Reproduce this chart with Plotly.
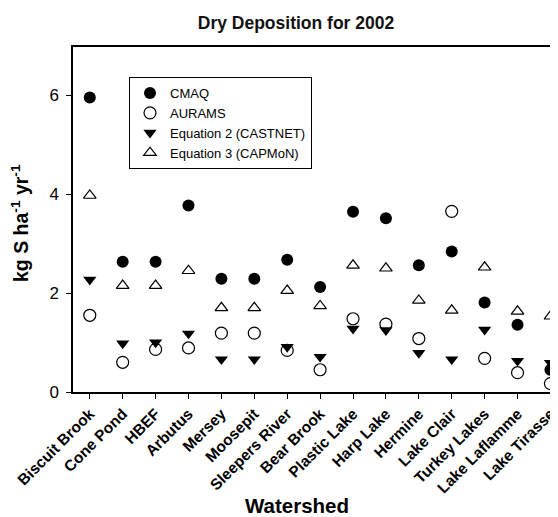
import plotly.graph_objects as go

watersheds = ["Biscuit Brook", "Cone Pond", "HBEF", "Arbutus", "Mersey", "Moosepit",
              "Sleepers River", "Bear Brook", "Plastic Lake", "Harp Lake", "Hermine",
              "Lake Clair", "Turkey Lakes", "Lake Laflamme", "Lake Tirasse"]
cmaq = [5.95, 2.63, 2.63, 3.77, 2.29, 2.29, 2.67, 2.12, 3.64, 3.51, 2.56, 2.84, 1.81, 1.36, 0.45]
aurams = [1.55, 0.60, 0.86, 0.89, 1.19, 1.19, 0.84, 0.45, 1.48, 1.37, 1.08, 3.65, 0.68, 0.39, 0.17]
eq2_castnet = [2.27, 0.98, 1.00, 1.18, 0.66, 0.66, 0.91, 0.71, 1.28, 1.25, 0.79, 0.66, 1.26, 0.63, 0.59]
eq3_capmon = [3.97, 2.15, 2.15, 2.45, 1.70, 1.70, 2.05, 1.74, 2.56, 2.50, 1.85, 1.65, 2.52, 1.63, 1.53]
y_ticks = [0, 2, 4, 6]

# page has an 8px body margin; work in page pixels and subtract it
OFF = 8
W, H = 558 - OFF, 517 - OFF
PL, PT, PB = 73, 47, 392          # plot area in page pixels (left, top, bottom)
L, T = PL - OFF, PT - OFF
B = H - (PB - OFF)
R = 0
PW, PH = W - L - R, PB - PT


def px(xp):
    return (xp - PL) / PW


def py(yp):
    return (PB - yp) / PH


fig = go.Figure()
FONT = "Arial, Liberation Sans, Helvetica, sans-serif"

fig.add_trace(go.Scatter(x=watersheds, y=aurams, mode="markers", name="AURAMS", legendrank=2, cliponaxis=False,
                         marker=dict(symbol="circle-open", size=12, color="black", line=dict(width=1.2, color="black"))))
fig.add_trace(go.Scatter(x=watersheds, y=eq3_capmon, mode="markers", name="Equation 3 (CAPMoN)", legendrank=4,
                         cliponaxis=False,
                         marker=dict(symbol="triangle-up-open", size=11, color="black", line=dict(width=1.2, color="black"))))
fig.add_trace(go.Scatter(x=watersheds, y=eq2_castnet, mode="markers", name="Equation 2 (CASTNET)", legendrank=3,
                         cliponaxis=False,
                         marker=dict(symbol="triangle-down", size=11.5, color="black", line=dict(width=0))))
fig.add_trace(go.Scatter(x=watersheds, y=cmaq, mode="markers", name="CMAQ", legendrank=1, cliponaxis=False,
                         marker=dict(symbol="circle", size=12, color="black", line=dict(width=0))))

fig.update_layout(
    width=W, height=H,
    margin=dict(l=L, r=R, t=T, b=B, pad=0),
    paper_bgcolor="white", plot_bgcolor="white",
    font=dict(family=FONT, color="black"),
    title=dict(text="<b>Dry Deposition for 2002</b>", x=(296 - OFF) / W, xref="container", xanchor="center",
               y=1 - (23 - OFF) / H, yref="container", yanchor="middle", font=dict(size=17.5, color="#111")),
    showlegend=True,
    legend=dict(x=px(129), y=py(77), xanchor="left", yanchor="top",
                bgcolor="white", bordercolor="black", borderwidth=1,
                font=dict(size=13, family=FONT), itemwidth=30, tracegroupgap=0,
                traceorder="normal"),
    xaxis=dict(type="category", range=[-0.51, 14.23], showline=True, linecolor="black", linewidth=1.5,
               mirror=True, ticks="outside", ticklen=5, tickcolor="black", tickwidth=1, automargin=False,
               tickangle=-45, tickfont=dict(size=15.5, family=FONT), showgrid=False, zeroline=False),
    yaxis=dict(range=[0, 6.97], tickvals=y_ticks, showline=True, linecolor="black", linewidth=1.5,
               ticks="outside", ticklen=5, tickcolor="black", tickwidth=1, automargin=False,
               ticklabelstandoff=4,
               tickfont=dict(size=17, family=FONT), showgrid=False, zeroline=False),
    annotations=[
        dict(text="<b>Watershed</b>", xref="paper", yref="paper", x=px(297),
             y=py(505), xanchor="center", yanchor="middle", showarrow=False,
             font=dict(size=20.5, family=FONT)),
        dict(text="<b>kg S ha<sup>-1</sup> yr<sup>-1</sup></b>", xref="paper", yref="paper",
             x=px(20), y=py(223), xanchor="center", yanchor="middle", textangle=-90,
             showarrow=False, font=dict(size=19.5, family=FONT)),
    ],
)
fig.update_xaxes(tickprefix="<b>", ticksuffix="</b>")
fig.update_yaxes(tickprefix="<b>", ticksuffix="</b>")

fig.write_html("out.html")
